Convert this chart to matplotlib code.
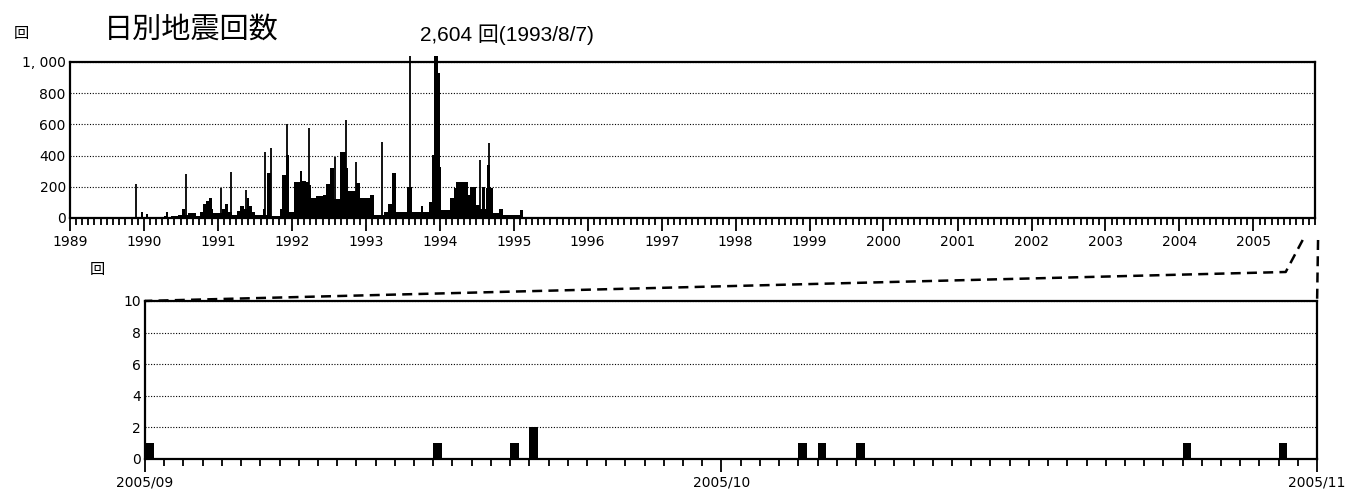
import matplotlib
matplotlib.use("Agg")
import matplotlib.pyplot as plt
import matplotlib.dates as mdates
from matplotlib.lines import Line2D
import numpy as np
import pandas as pd

# daily counts 1989-1995 (value holds until next date)
level_dates = ['1989-01-01', '1989-07-10', '1989-07-20', '1989-12-20', '1989-12-28', '1990-01-10',
               '1990-01-20', '1990-04-10', '1990-04-18', '1990-04-28', '1990-05-15', '1990-06-20',
               '1990-07-10', '1990-07-25', '1990-08-05', '1990-09-15', '1990-10-05', '1990-10-20',
               '1990-11-05', '1990-11-20', '1990-12-01', '1990-12-10', '1991-01-01', '1991-01-20',
               '1991-02-05', '1991-02-20', '1991-03-10', '1991-04-05', '1991-04-20', '1991-05-10',
               '1991-05-25', '1991-06-05', '1991-06-20', '1991-07-05', '1991-08-10', '1991-08-20',
               '1991-09-01', '1991-09-22', '1991-11-05', '1991-11-15', '1991-12-05', '1991-12-18',
               '1992-01-10', '1992-02-10', '1992-02-20', '1992-03-10', '1992-03-25', '1992-04-05',
               '1992-05-01', '1992-06-01', '1992-06-20', '1992-07-10', '1992-07-30', '1992-08-25',
               '1992-09-25', '1992-10-05', '1992-11-15', '1992-12-01', '1993-01-20', '1993-02-10',
               '1993-03-30', '1993-04-20', '1993-05-10', '1993-05-28', '1993-07-25', '1993-08-15',
               '1993-10-01', '1993-10-10', '1993-11-10', '1993-11-25', '1993-12-05', '1993-12-25',
               '1994-01-01', '1994-01-08', '1994-02-20', '1994-03-10', '1994-03-22', '1994-05-20',
               '1994-06-01', '1994-06-28', '1994-07-20', '1994-07-30', '1994-08-10', '1994-08-15',
               '1994-08-22', '1994-09-05', '1994-09-20', '1994-10-20', '1994-11-10', '1995-01-30',
               '1995-02-15', '2005-11-01']
level_counts = [0, 8, 0, 40, 0, 24,
                0, 10, 36, 8, 12, 20,
                60, 20, 35, 15, 40, 90,
                110, 125, 60, 30, 35, 55,
                90, 40, 20, 45, 75, 60,
                126, 75, 40, 20, 60, 20,
                290, 10, 60, 275, 404, 40,
                230, 300, 240, 230, 212, 130,
                140, 150, 215, 320, 120, 425,
                318, 170, 225, 130, 145, 20,
                40, 90, 286, 40, 200, 40,
                75, 40, 105, 404, 1200, 927,
                330, 50, 130, 195, 233, 145,
                200, 85, 55, 200, 55, 190,
                340, 190, 30, 60, 20, 50,
                0, 0]

# single-day spikes
spike_dates = ['1989-11-25', '1990-07-30', '1991-01-15', '1991-03-05', '1991-05-20', '1991-08-22',
               '1991-09-20', '1991-12-08', '1992-03-25', '1992-08-04', '1992-09-24', '1992-11-12',
               '1993-03-23', '1993-08-07', '1994-07-18', '1994-09-02', '1995-07-20', '1996-09-05',
               '2002-04-20']
spike_counts = [215, 282, 195, 297, 180, 421,
                447, 600, 579, 393, 628, 361,
                490, 2604, 371, 478, 5, 6,
                8]

# zoomed period 2005/09 - 2005/10
recent_dates = ['2005-09-01', '2005-09-16', '2005-09-20', '2005-09-21', '2005-10-05',
                '2005-10-06', '2005-10-08', '2005-10-25', '2005-10-30']
recent_counts = [1, 1, 1, 2, 1, 1, 1, 1, 1]

jp = ['Noto Sans CJK JP', 'DejaVu Sans']

fig = plt.figure(figsize=(13.67, 4.97), dpi=100)
ax1 = fig.add_axes([0.0512, 0.5614, 0.9108, 0.3139])
ax2 = fig.add_axes([0.1061, 0.0765, 0.8574, 0.318])

# --- top: whole period ---
lv_x = pd.to_datetime(level_dates)
lv_y = np.minimum(np.array(level_counts), 1040)
ax1.fill_between(lv_x, 0, lv_y, step='post', color='black', linewidth=0, clip_on=False)
sp_x = pd.to_datetime(spike_dates)
ax1.vlines(sp_x, 0, np.minimum(np.array(spike_counts), 1040), color='black', linewidth=1.3, clip_on=False)

ax1.set_xlim(pd.Timestamp('1989-01-01'), pd.Timestamp('2005-11-01'))
ax1.set_ylim(0, 1000)
ax1.set_yticks([0, 200, 400, 600, 800, 1000])
ax1.set_yticklabels(['0', '200', '400', '600', '800', '1, 000'])
ax1.xaxis.set_major_locator(mdates.YearLocator())
ax1.xaxis.set_major_formatter(mdates.DateFormatter('%Y'))
ax1.xaxis.set_minor_locator(mdates.MonthLocator())
ax1.grid(axis='y', linestyle=(0, (1, 1.5)), color='black', linewidth=0.8)

# --- bottom: last two months ---
rc_x = pd.to_datetime(recent_dates)
ax2.bar(rc_x, recent_counts, width=0.45, align='edge', color='black')
ax2.set_xlim(pd.Timestamp('2005-09-01'), pd.Timestamp('2005-11-01'))
ax2.set_ylim(0, 10)
ax2.set_yticks([0, 2, 4, 6, 8, 10])
ax2.xaxis.set_major_locator(mdates.MonthLocator())
ax2.xaxis.set_major_formatter(mdates.DateFormatter('%Y/%m'))
ax2.xaxis.set_minor_locator(mdates.DayLocator())
ax2.grid(axis='y', linestyle=(0, (1, 1.5)), color='black', linewidth=0.8)

for ax in (ax1, ax2):
    ax.set_axisbelow(True)
    for s in ax.spines.values():
        s.set_linewidth(1.6)
    ax.tick_params(axis='y', length=0, pad=3, labelsize=10)
    ax.tick_params(axis='x', which='major', length=9, width=1.3, labelsize=10, pad=3)
    ax.tick_params(axis='x', which='minor', length=5, width=1.3)

# units, title, annotation
fig.text(0.016, 0.933, '回', family=jp, fontsize=11, ha='center', va='center')
fig.text(0.071, 0.458, '回', family=jp, fontsize=11, ha='center', va='center')
fig.text(0.076, 0.94, '日別地震回数', family=jp, fontsize=21, ha='left', va='center')
fig.text(0.307, 0.93, '2,604 回(1993/8/7)', family=['Liberation Sans', 'Noto Sans CJK JP'],
         fontsize=15, ha='left', va='center')

# dashed connectors from the top axis to the zoomed panel
to_fig = fig.transFigure.inverted()
p_sep = ax1.transData.transform((mdates.date2num(pd.Timestamp('2005-09-01')), 0))
p_nov = ax1.transData.transform((mdates.date2num(pd.Timestamp('2005-11-01')), 0))
q_left = ax2.transData.transform((mdates.date2num(pd.Timestamp('2005-09-01')), 10))
q_right = ax2.transData.transform((mdates.date2num(pd.Timestamp('2005-11-01')), 10))
left_path = np.array([p_sep + [0, -22], p_sep + [-17, -54], q_left])
right_path = np.array([p_nov + [3, -22], q_right])
for path in (left_path, right_path):
    pts = to_fig.transform(path)
    fig.add_artist(Line2D(pts[:, 0], pts[:, 1], color='black', linewidth=1.8,
                          linestyle=(0, (4, 2.5)), transform=fig.transFigure))

fig.savefig('out.png', dpi=100, facecolor='white')
